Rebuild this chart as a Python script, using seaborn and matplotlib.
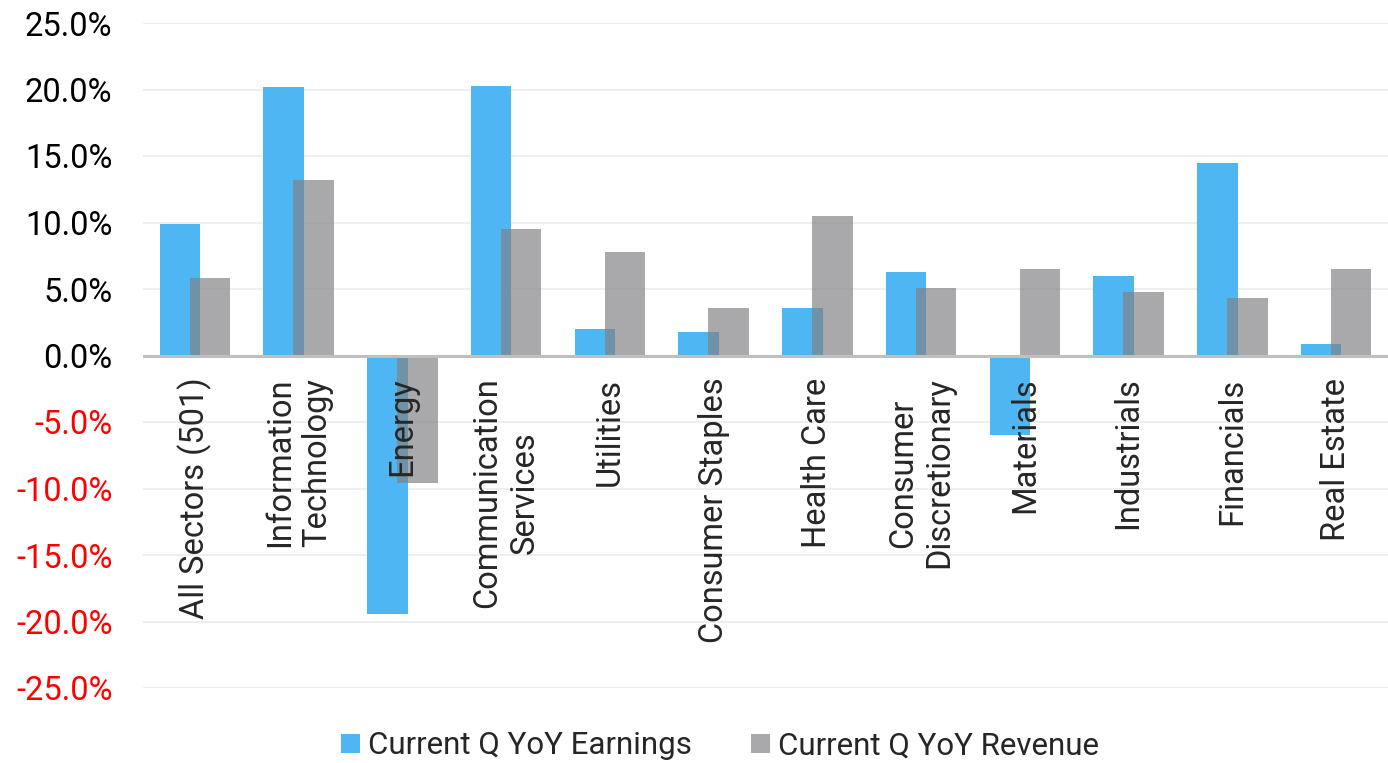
import matplotlib
matplotlib.use("Agg")
import matplotlib.pyplot as plt
import matplotlib.transforms as mtransforms
import seaborn as sns
import numpy as np

sectors = ["All Sectors (501)", "Information\nTechnology", "Energy", "Communication\nServices",
           "Utilities", "Consumer Staples", "Health Care", "Consumer\nDiscretionary",
           "Materials", "Industrials", "Financials", "Real Estate"]
earnings = [9.9, 20.2, -19.4, 20.3, 2.0, 1.8, 3.6, 6.3, -6.0, 6.0, 14.5, 0.9]
revenue = [5.8, 13.2, -9.6, 9.5, 7.8, 3.6, 10.5, 5.1, 6.5, 4.8, 4.3, 6.5]
yticks = [25, 20, 15, 10, 5, 0, -5, -10, -15, -20, -25]
series_names = ["Current Q YoY Earnings", "Current Q YoY Revenue"]

sns.set_style("white")
plt.rcParams['font.family'] = ['Roboto', 'DejaVu Sans']

fig = plt.figure(figsize=(13.88, 7.63), dpi=100)
ax = fig.add_axes([143/1388, 1 - 688/763, 1 - 143/1388, (688 - 23)/763])

idx = np.arange(len(sectors))
ax.set_axisbelow(True)
sns.barplot(x=idx - 0.145, y=earnings, native_scale=True, width=0.39, color="#4EB6F2",
            saturation=1, errorbar=None, ax=ax, label=series_names[0], zorder=2,
            linewidth=0, edgecolor="none")
sns.barplot(x=idx + 0.145, y=revenue, native_scale=True, width=0.39, color="#818185",
            saturation=1, alpha=0.68, errorbar=None, ax=ax, label=series_names[1], zorder=3,
            linewidth=0, edgecolor="none")

ax.set_xlim(-0.5, len(sectors) - 0.5)
ax.set_ylim(-25, 25)
ax.set_yticks(yticks)
ax.set_yticklabels([f"{v:.1f}%" for v in yticks], fontsize=23.5)
for lab, v in zip(ax.get_yticklabels(), yticks):
    lab.set_color("#FF0000" if v < 0 else "black")
ax.yaxis.grid(True, color="#EEEEEE", linewidth=1.4)
ax.xaxis.grid(False)
ax.axhline(0, color="#BFBFBF", linewidth=2.2, zorder=5)

ax.set_xticks(idx)
ax.set_xticklabels(sectors, rotation=90, va="top", ha="center", multialignment="center", fontsize=23.5)
ax.tick_params(axis="x", length=0, pad=0)
ax.tick_params(axis="y", length=0, pad=22)
offset = mtransforms.ScaledTranslation(0, -16/72, fig.dpi_scale_trans)
for lab in ax.get_xticklabels():
    lab.set_transform(ax.transData + offset)
    lab.set_y(0)
ax.xaxis.set_zorder(10)
ax.set_xlabel("")
ax.set_ylabel("")
for s in ax.spines.values():
    s.set_visible(False)

handles, labels = ax.get_legend_handles_labels()
if ax.get_legend() is not None:
    ax.get_legend().remove()
fig.legend(handles, labels, loc="center", bbox_to_anchor=(720/1388, 1 - 746/763), ncol=2,
           frameon=False, fontsize=22.5, handlelength=0.6, handleheight=0.6,
           handletextpad=0.25, columnspacing=1.9, borderaxespad=0)

fig.savefig("out.png", dpi=100)
